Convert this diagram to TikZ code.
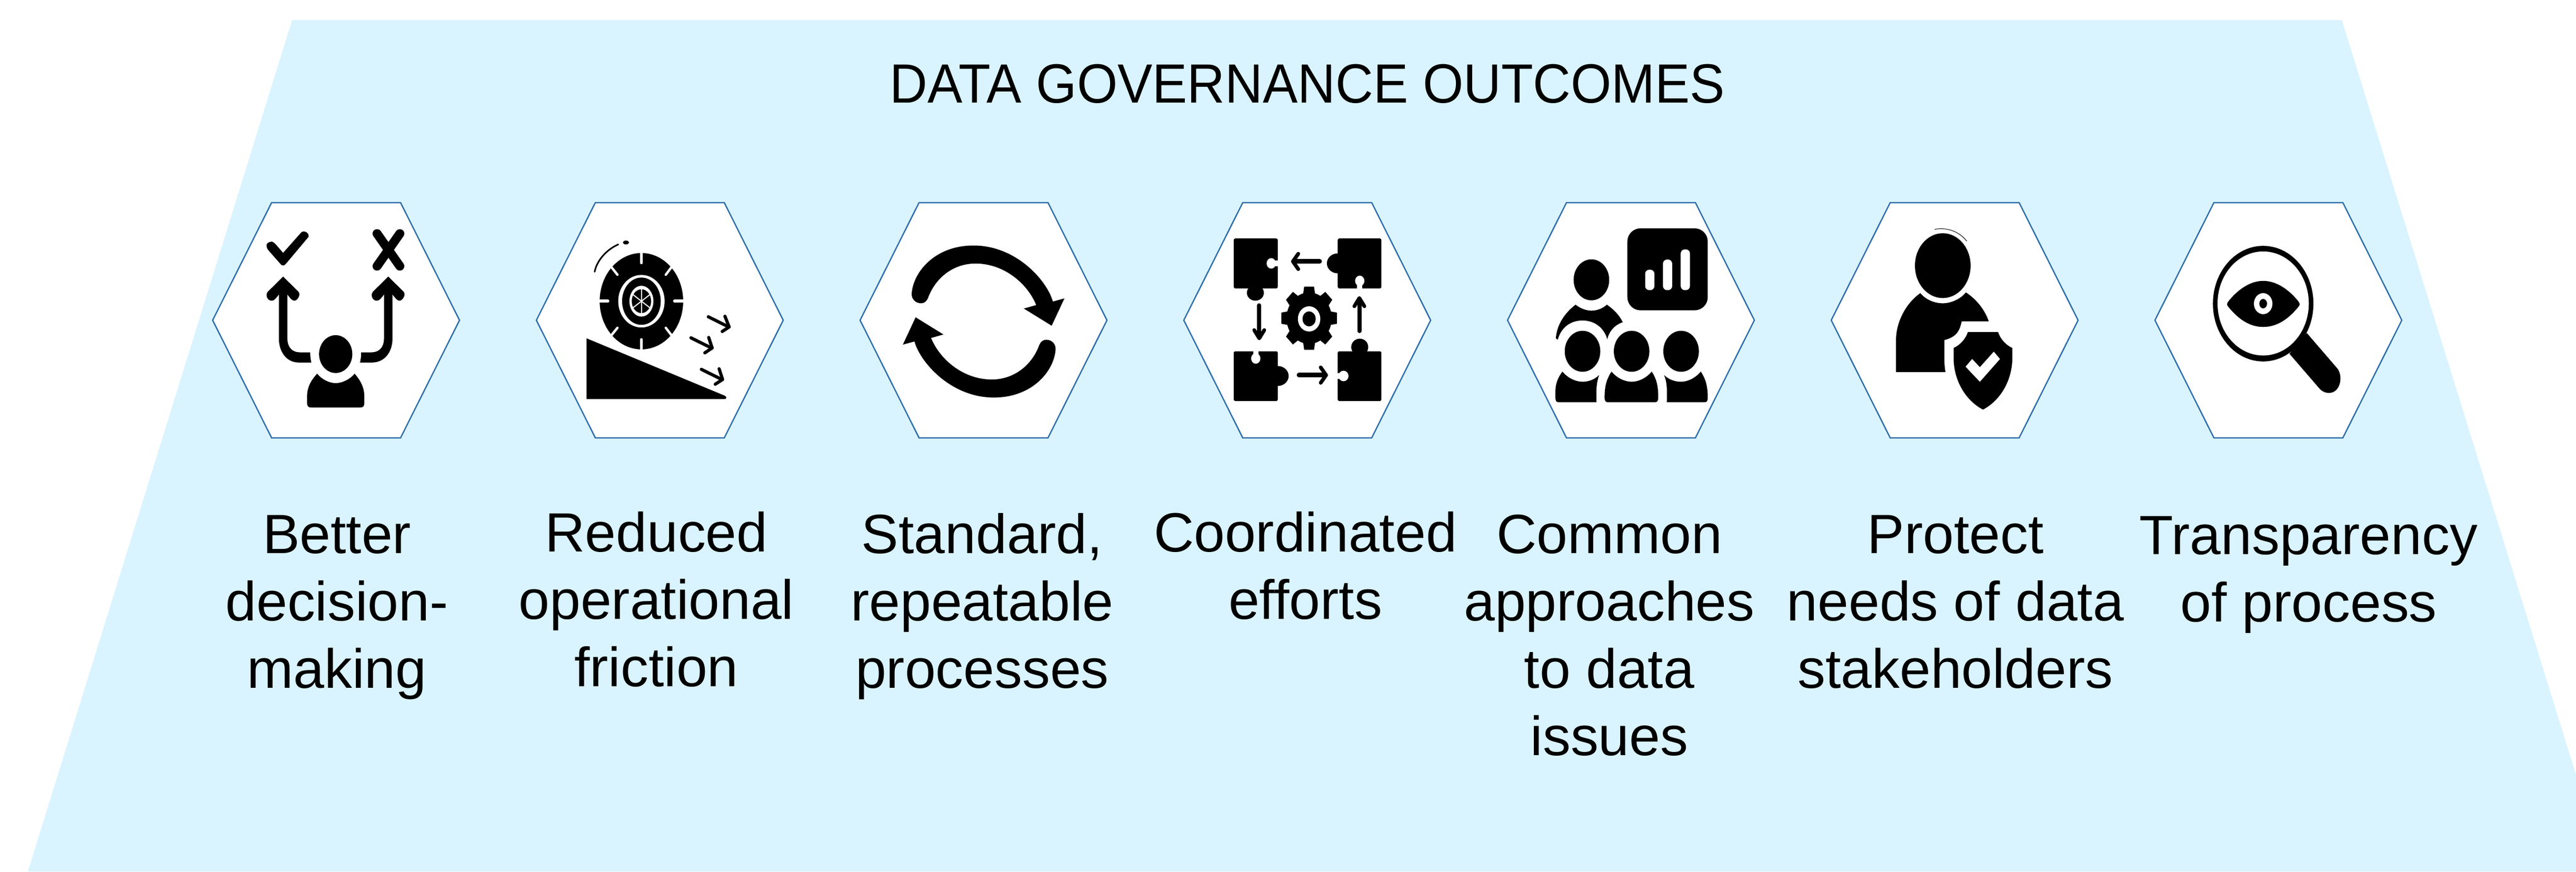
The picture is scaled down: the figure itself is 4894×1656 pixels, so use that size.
\documentclass[tikz,border=0pt]{standalone}
\usepackage{fontspec}
\setmainfont{Liberation Sans}
\newfontfamily\capfont[FakeStretch=1.005]{Liberation Sans}
\newfontfamily\headfont[FakeStretch=0.945]{Liberation Sans}
\definecolor{panelblue}{HTML}{DAF4FF}
\definecolor{hexline}{HTML}{2F6EAB}
\tikzset{
  panel/.style={fill=panelblue,draw=none},
  hexa/.style={fill=white,draw=hexline,line width=0.025cm,line join=miter},
  ink/.style={fill=black,draw=none},
  gap/.style={fill=white,draw=none},
  iconline/.style={draw=black,line width=#1,line cap=round,line join=round},
  gapline/.style={draw=white,line width=#1,line cap=round},
  zoomview/.style={x=0.0073342cm,y=-0.0033333cm},
  caption/.style={anchor=north,inner sep=0pt,align=center,text=black,font=\capfont\fontsize{29.9pt}{36.42pt}\selectfont},
  heading/.style={anchor=base,inner sep=0pt,text=black,font=\headfont\fontsize{29.9pt}{36.42pt}\selectfont},
  upHead/.pic={\fill[ink] (0,0) -- (40,88) .. controls (47,108) and (35,138) .. (30,138) .. controls (23,138) and (20,128) .. (11,103) -- (-11,103) .. controls (-20,128) and (-23,138) .. (-30,138) .. controls (-40,138) and (-47,108) .. (-40,88) -- cycle;}
}
\begin{document}
\begin{tikzpicture}[x=0.01cm,y=-0.01cm]
\useasboundingbox (0,0) rectangle (4894,1656);
\fill[white] (0,0) rectangle (4894,1656);
\begin{scope}
  \clip (0,0) rectangle (4894,1656);
  \fill[panel] (555,38) -- (4449,38) -- (4951,1656) -- (53,1656) -- cycle;
\end{scope}
\node[heading] (title) at (2484,195) {DATA GOVERNANCE OUTCOMES};
\foreach \i in {0,...,6}
  \draw[hexa,shift={(404+615*\i,0)}] (0,608.5) -- (112,385) -- (357,385) -- (469,608.5) -- (357,832) -- (112,832) -- cycle;

% icon 1 and 2
\begin{scope}[shift={(380,360)},zoomview]
  \fill[ink] (351,940) ellipse [x radius=43,y radius=108];
  \fill[ink] (303,1052) .. controls (315,1085) and (335,1106) .. (351,1106) .. controls (367,1106) and (388,1085) .. (400,1052) .. controls (415,1090) and (425,1130) .. (425,1180) -- (425,1222) .. controls (425,1235) and (422,1245) .. (415,1245) -- (287,1245) .. controls (280,1245) and (277,1235) .. (277,1222) -- (277,1180) .. controls (277,1130) and (287,1090) .. (303,1052) -- cycle;
  \fill[ink] (288,988) -- (255,988) .. controls (225,988) and (204,930) .. (204,850) -- (204,590) -- (226,590) -- (226,850) .. controls (226,905) and (240,930) .. (258,930) -- (285,930) .. controls (285,950) and (286,970) .. (288,988) -- cycle;
  \fill[ink] (414,988) -- (445,988) .. controls (477,988) and (498,930) .. (498,850) -- (498,590) -- (476,590) -- (476,850) .. controls (476,905) and (462,930) .. (444,930) -- (417,930) .. controls (417,950) and (416,970) .. (414,988) -- cycle;
  \pic at (215,497) {upHead};
  \pic at (487,497) {upHead};
  \fill[ink] (172,320) .. controls (172,305) and (180,298) .. (186,298) .. controls (192,300) and (200,325) .. (215,362) -- (262,245) .. controls (270,232) and (282,245) .. (281,270) -- (222,425) .. controls (218,437) and (212,437) .. (208,425) -- (178,350) .. controls (174,340) and (172,330) .. (172,320) -- cycle;
  \draw[iconline=0.17cm] (458,252) -- (517,438);
  \draw[iconline=0.17cm] (517,252) -- (458,438);

  \fill[ink] (1142,638) ellipse [x radius=108,y radius=275];
  \draw[gapline=0.045cm] (1142,362) -- (1142,420);
  \draw[gapline=0.045cm] (1142,856) -- (1142,914);
  \draw[gapline=0.06cm] (1030,638) -- (1055,638);
  \draw[gapline=0.06cm] (1228,638) -- (1255,638);
  \draw[gapline=0.045cm] (1063,440) -- (1080,487);
  \draw[gapline=0.045cm] (1221,440) -- (1205,487);
  \draw[gapline=0.045cm] (1063,836) -- (1080,790);
  \draw[gapline=0.045cm] (1221,836) -- (1205,790);
  \fill[gap] (1142,638) ellipse [x radius=60,y radius=150];
  \fill[ink] (1142,638) ellipse [x radius=50,y radius=135];
  \fill[gap] (1142,638) ellipse [x radius=31,y radius=88];
  \fill[ink] (1142,638) ellipse [x radius=25,y radius=68];
  \draw[gapline=0.02cm] (1142,565) -- (1142,711);
  \draw[gapline=0.02cm] (1117,595) -- (1167,681);
  \draw[gapline=0.02cm] (1167,595) -- (1117,681);
  \draw[iconline=0.03cm] (1021,470) .. controls (1026,410) and (1050,345) .. (1082,314);
  \fill[ink] (1102,303) ellipse [x radius=8,y radius=11];
  \fill[ink] (1000,850) -- (1358,1178) .. controls (1364,1186) and (1362,1197) .. (1356,1197) -- (1000,1197) -- cycle;
  \draw[iconline=0.06cm] (1315,727) -- (1368,785);
  \draw[iconline=0.06cm] (1358,724) -- (1369,785) -- (1351,811);
  \draw[iconline=0.06cm] (1270,847) -- (1323,905);
  \draw[iconline=0.06cm] (1316,845) -- (1325,905) -- (1306,933);
  \draw[iconline=0.06cm] (1297,1027) -- (1350,1085);
  \draw[iconline=0.06cm] (1343,1024) -- (1352,1085) -- (1333,1112);
\end{scope}

% icon 3 and 4
\begin{scope}[shift={(1600,360)},zoomview]
  \fill[ink] (180,590) .. controls (185,470) and (240,320) .. (340,320) .. controls (450,320) and (530,520) .. (545,640) -- (575,622) -- (542,778) -- (470,680) -- (502,660) .. controls (480,540) and (420,423) .. (345,423) .. controls (285,423) and (240,510) .. (222,620) .. controls (218,640) and (212,650) .. (204,650) .. controls (190,650) and (178,625) .. (180,590) -- cycle;
  \fill[ink] (552,918) .. controls (547,1038) and (492,1188) .. (392,1188) .. controls (282,1188) and (202,988) .. (187,868) -- (157,886) -- (190,730) -- (262,828) -- (230,848) .. controls (252,968) and (312,1085) .. (387,1085) .. controls (447,1085) and (492,998) .. (510,888) .. controls (514,868) and (520,858) .. (528,858) .. controls (542,858) and (554,883) .. (552,918) -- cycle;

  \fill[ink,rounded corners=0.03cm] (1013,280) rectangle (1127,565);
  \fill[ink] (1069,590) ellipse [x radius=22,y radius=45];
  \fill[gap] (1110,422) ellipse [x radius=12,y radius=30];
  \fill[gap] (1110,405) rectangle (1130,440);
  \fill[ink,rounded corners=0.03cm] (1282,280) rectangle (1395,565);
  \fill[ink] (1282,422) ellipse [x radius=28,y radius=57];
  \fill[gap] (1339,522) ellipse [x radius=12,y radius=30];
  \fill[gap] (1332,540) rectangle (1346,570);
  \fill[ink,rounded corners=0.03cm] (1013,924) rectangle (1127,1208);
  \fill[ink] (1127,1065) ellipse [x radius=28,y radius=57];
  \fill[gap] (1070,965) ellipse [x radius=12,y radius=30];
  \fill[gap] (1063,920) rectangle (1077,950);
  \fill[ink,rounded corners=0.03cm] (1282,924) rectangle (1395,1208);
  \fill[ink] (1339,900) ellipse [x radius=22,y radius=48];
  \fill[gap] (1297,1065) ellipse [x radius=13,y radius=30];
  \fill[gap] (1278,1048) rectangle (1297,1082);
  \draw[iconline=0.09cm] (1235,411) -- (1170,411);
  \draw[iconline=0.07cm] (1180,367) -- (1166,411) -- (1180,455);
  \draw[iconline=0.09cm] (1182,1060) -- (1245,1060);
  \draw[iconline=0.07cm] (1238,1016) -- (1252,1060) -- (1238,1104);
  \draw[iconline=0.08cm] (1079,662) -- (1079,835);
  \draw[iconline=0.07cm] (1066,803) -- (1079,850) -- (1092,803);
  \draw[iconline=0.08cm] (1338,808) -- (1338,635);
  \draw[iconline=0.07cm] (1325,667) -- (1338,620) -- (1351,667);
  \begin{scope}[shift={(1208,735)},x=0.5354cm,y=-0.61cm]
    \fill[ink] (0,0) ellipse [x radius=0.8,y radius=0.8];
    \foreach \a in {0,45,...,315}
      \fill[ink] (\a-18:0.72) -- (\a-10:1) -- (\a+10:1) -- (\a+18:0.72) -- cycle;
  \end{scope}
  \fill[gap] (1208,739) ellipse [x radius=29,y radius=72];
  \fill[ink] (1208,739) ellipse [x radius=17,y radius=43];
\end{scope}

% icon 5 and 6
\begin{scope}[shift={(2820,360)},zoomview]
  \fill[ink,rounded corners=0.25cm] (370,222) rectangle (578,690);
  \fill[gap,rounded corners=0.08cm] (416,458) rectangle (440,575);
  \fill[gap,rounded corners=0.08cm] (462,400) rectangle (486,575);
  \fill[gap,rounded corners=0.08cm] (508,342) rectangle (532,575);
  \fill[ink] (277,516) ellipse [x radius=46,y radius=117];
  \fill[ink] (236,658) .. controls (250,682) and (265,692) .. (277,692) .. controls (290,692) and (305,682) .. (317,658) .. controls (335,685) and (350,720) .. (358,758) .. controls (335,775) and (322,815) .. (318,855) .. controls (310,790) and (285,748) .. (254,748) .. controls (222,748) and (198,790) .. (190,858) -- (185,850) .. controls (187,780) and (205,710) .. (236,658) -- cycle;
  \fill[ink] (254,924) ellipse [x radius=46,y radius=117];
  \fill[ink] (381,924) ellipse [x radius=46,y radius=117];
  \fill[ink] (509,924) ellipse [x radius=46,y radius=117];
  \fill[ink] (202,1040) .. controls (215,1075) and (235,1098) .. (254,1098) .. controls (270,1098) and (285,1085) .. (297,1060) .. controls (290,1100) and (289,1150) .. (290,1215) -- (192,1215) .. controls (186,1215) and (184,1205) .. (184,1190) -- (184,1150) .. controls (184,1110) and (190,1075) .. (202,1040) -- cycle;
  \fill[ink] (329,1040) .. controls (342,1075) and (362,1098) .. (381,1098) .. controls (400,1098) and (420,1075) .. (433,1040) .. controls (445,1080) and (450,1120) .. (450,1190) .. controls (450,1205) and (447,1215) .. (442,1215) -- (319,1215) .. controls (314,1215) and (311,1205) .. (311,1190) .. controls (311,1120) and (317,1080) .. (329,1040) -- cycle;
  \fill[ink] (465,1060) .. controls (477,1085) and (492,1098) .. (509,1098) .. controls (527,1098) and (547,1075) .. (560,1040) .. controls (572,1080) and (578,1120) .. (578,1190) .. controls (578,1205) and (576,1215) .. (570,1215) -- (472,1215) .. controls (473,1150) and (473,1100) .. (465,1060) -- cycle;

  \fill[ink] (1186,435) ellipse [x radius=72,y radius=185];
  \draw[black,line width=0.01cm] (1165,228) .. controls (1190,216) and (1225,230) .. (1248,295);
  \fill[ink] (1128,592) .. controls (1142,630) and (1165,650) .. (1186,650) .. controls (1208,650) and (1232,625) .. (1246,588) .. controls (1275,630) and (1295,690) .. (1305,753) -- (1235,753) .. controls (1230,800) and (1225,840) .. (1190,860) -- (1190,960) .. controls (1190,990) and (1191,1020) .. (1193,1043) -- (1065,1043) -- (1065,860) .. controls (1065,760) and (1090,650) .. (1128,592) -- cycle;
  \fill[ink] (1251,814) -- (1329,814) .. controls (1335,855) and (1350,890) .. (1366,905) -- (1366,960) .. controls (1366,1090) and (1335,1205) .. (1290,1257) .. controls (1245,1205) and (1214,1090) .. (1214,960) -- (1214,905) .. controls (1230,890) and (1245,855) .. (1251,814) -- cycle;
  \fill[gap] (1262,968) -- (1282,1015) -- (1318,926) -- (1334,968) -- (1282,1098) -- (1245,1012) -- cycle;
\end{scope}

% icon 7
\begin{scope}[shift={(3450,360)},zoomview]
  \fill[ink] (1270,820) -- (1350,1025) .. controls (1365,1075) and (1355,1162) .. (1327,1162) .. controls (1315,1162) and (1305,1145) .. (1300,1130) -- (1225,938) -- cycle;
  \fill[ink] (1157,652) ellipse [x radius=130,y radius=330];
  \fill[gap] (1157,651) ellipse [x radius=118,y radius=297];
  \fill[ink] (1157,522) .. controls (1200,522) and (1235,600) .. (1250,645) .. controls (1252,652) and (1252,660) .. (1250,665) .. controls (1230,720) and (1200,785) .. (1157,785) .. controls (1115,785) and (1085,720) .. (1065,665) .. controls (1063,660) and (1063,652) .. (1065,645) .. controls (1080,600) and (1115,522) .. (1157,522) -- cycle;
  \fill[gap] (1157,652) ellipse [x radius=24,y radius=60];
  \fill[ink] (1157,652) ellipse [x radius=10,y radius=27];
\end{scope}

\node[caption] (better) at (640,961) {\strut Better\\decision-\\making};
\node[caption] (reduced) at (1247,958) {\strut Reduced\\operational\\friction};
\node[caption] (standard) at (1866,961) {\strut Standard,\\repeatable\\processes};
\node[caption] (coordinated) at (2480,958) {\strut Coordinated\\efforts};
\node[caption] (common) at (3057.5,961) {\strut Common\\approaches\\to data\\issues};
\node[caption] (protect) at (3715,961) {\strut Protect\\needs of data\\stakeholders};
\node[caption] (transparency) at (4386,963) {\strut Transparency\\of process};
\end{tikzpicture}
\end{document}
